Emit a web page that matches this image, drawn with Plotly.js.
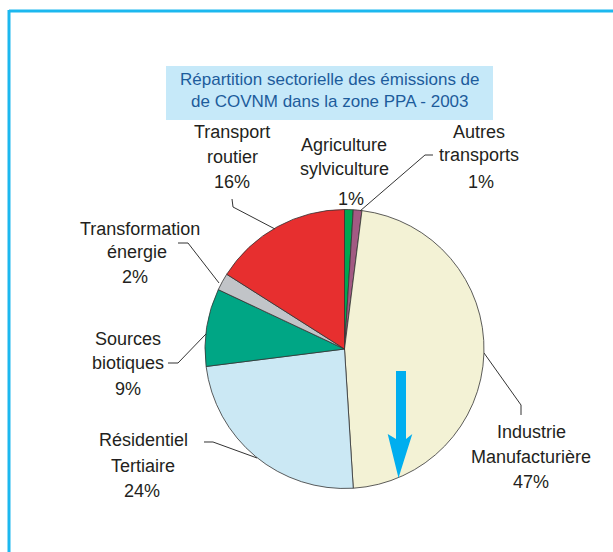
<!DOCTYPE html>
<html>
<head>
<meta charset="utf-8">
<script src="https://cdn.plot.ly/plotly-3.0.1.min.js"></script>
<style>
  html, body { margin: 0; padding: 0; background: #ffffff; }
  #chart { width: 613px; height: 552px; }
</style>
</head>
<body>
<div id="chart"></div>
<script>
// ---- Data ----
const sectors = [
  'Agriculture sylviculture',
  'Autres transports',
  'Industrie Manufacturière',
  'Résidentiel Tertiaire',
  'Sources biotiques',
  'Transformation énergie',
  'Transport routier'
];
const shares = [1, 1, 47, 24, 9, 2, 16];
const sliceColors = ['#00a651', '#a25a83', '#f3f2d5', '#cbe8f4', '#00a685', '#c1c4c8', '#e72f2f'];
const titleLines = ['Répartition sectorielle des émissions de', 'de COVNM dans la zone PPA - 2003'];

// ---- Layout helpers (pixel positions of decorations) ----
const W = 613, H = 552;
const px = v => v / W;
const py = v => 1 - v / H;

// pie geometry
const cx = 344.5, cy = 349, R = 139.5;

// label line positions [x per line], [y per line]
const labelX = [
  [344, 344, 351],
  [479, 479, 481],
  [531, 531, 531],
  [143, 143, 142],
  [128, 128, 128],
  [140, 137, 135],
  [232, 232, 232]
];
const labelY = [
  [145, 169, 199],
  [132, 155, 182],
  [432, 457, 482],
  [440, 466, 491],
  [339, 363, 389],
  [229, 252, 277],
  [132, 157, 182]
];
// leader line polylines (pixels); null = no leader
const leaders = [
  null,
  [[433, 155], [425, 155], [360, 211]],
  [[484, 353], [521, 405], [521, 415]],
  [[204, 442], [213, 442], [257, 458]],
  [[168, 363], [178, 363], [206, 334]],
  [[178, 243], [188, 243], [219, 283]],
  [[232, 199], [233, 207], [275, 229]]
];
const arrowPts = [[396, 371], [406, 371], [406, 439], [412.3, 434], [398.5, 478], [387.7, 434], [396, 439]];

function pathFrom(points, close) {
  return points.map((p, i) => (i ? 'L' : 'M') + px(p[0]).toFixed(5) + ',' + py(p[1]).toFixed(5)).join(' ') + (close ? ' Z' : '');
}

const annotations = [];
sectors.forEach((name, i) => {
  const lines = name.split(' ').concat([shares[i] + '%']);
  lines.forEach((t, j) => {
    annotations.push({
      text: t, xref: 'paper', yref: 'paper',
      x: px(labelX[i][j]), y: py(labelY[i][j]),
      xanchor: 'center', yanchor: 'middle', showarrow: false,
      font: { family: 'Liberation Sans, Arial, sans-serif', size: 18, color: '#231f20' }
    });
  });
});
const titleY = [80, 102];
titleLines.forEach((t, j) => {
  annotations.push({
    text: t, xref: 'paper', yref: 'paper',
    x: px(330), y: py(titleY[j]),
    xanchor: 'center', yanchor: 'middle', showarrow: false,
    font: { family: 'Liberation Sans, Arial, sans-serif', size: 17, color: '#1d5c9c' }
  });
});

const shapes = [
  // frame
  { type: 'line', xref: 'paper', yref: 'paper', x0: px(9), x1: 1, y0: py(11), y1: py(11), line: { color: '#1cb8ef', width: 3 } },
  { type: 'line', xref: 'paper', yref: 'paper', x0: px(9), x1: px(9), y0: py(10), y1: 0, line: { color: '#1cb8ef', width: 3 } },
  // title box
  { type: 'rect', xref: 'paper', yref: 'paper', x0: px(166), x1: px(493), y0: py(120), y1: py(66), fillcolor: '#c6e9f9', line: { width: 0 }, layer: 'below' }
];
leaders.forEach(l => {
  if (!l) return;
  shapes.push({ type: 'path', xref: 'paper', yref: 'paper', path: pathFrom(l, false), line: { color: '#333333', width: 1 } });
});
shapes.push({ type: 'path', xref: 'paper', yref: 'paper', path: pathFrom(arrowPts, true), fillcolor: '#00aeef', line: { width: 0 } });

const trace = {
  type: 'pie',
  labels: sectors,
  values: shares,
  sort: false,
  direction: 'clockwise',
  rotation: 0,
  textinfo: 'none',
  hoverinfo: 'none',
  marker: { colors: sliceColors, line: { color: '#333333', width: 0.8 } },
  domain: { x: [px(cx - R), px(cx + R)], y: [py(cy + R), py(cy - R)] }
};

const layout = {
  width: W, height: H,
  margin: { l: 0, r: 0, t: 0, b: 0 },
  paper_bgcolor: '#ffffff',
  showlegend: false,
  annotations: annotations,
  shapes: shapes
};

Plotly.newPlot('chart', [trace], layout, { displayModeBar: false, staticPlot: true });
</script>
</body>
</html>
